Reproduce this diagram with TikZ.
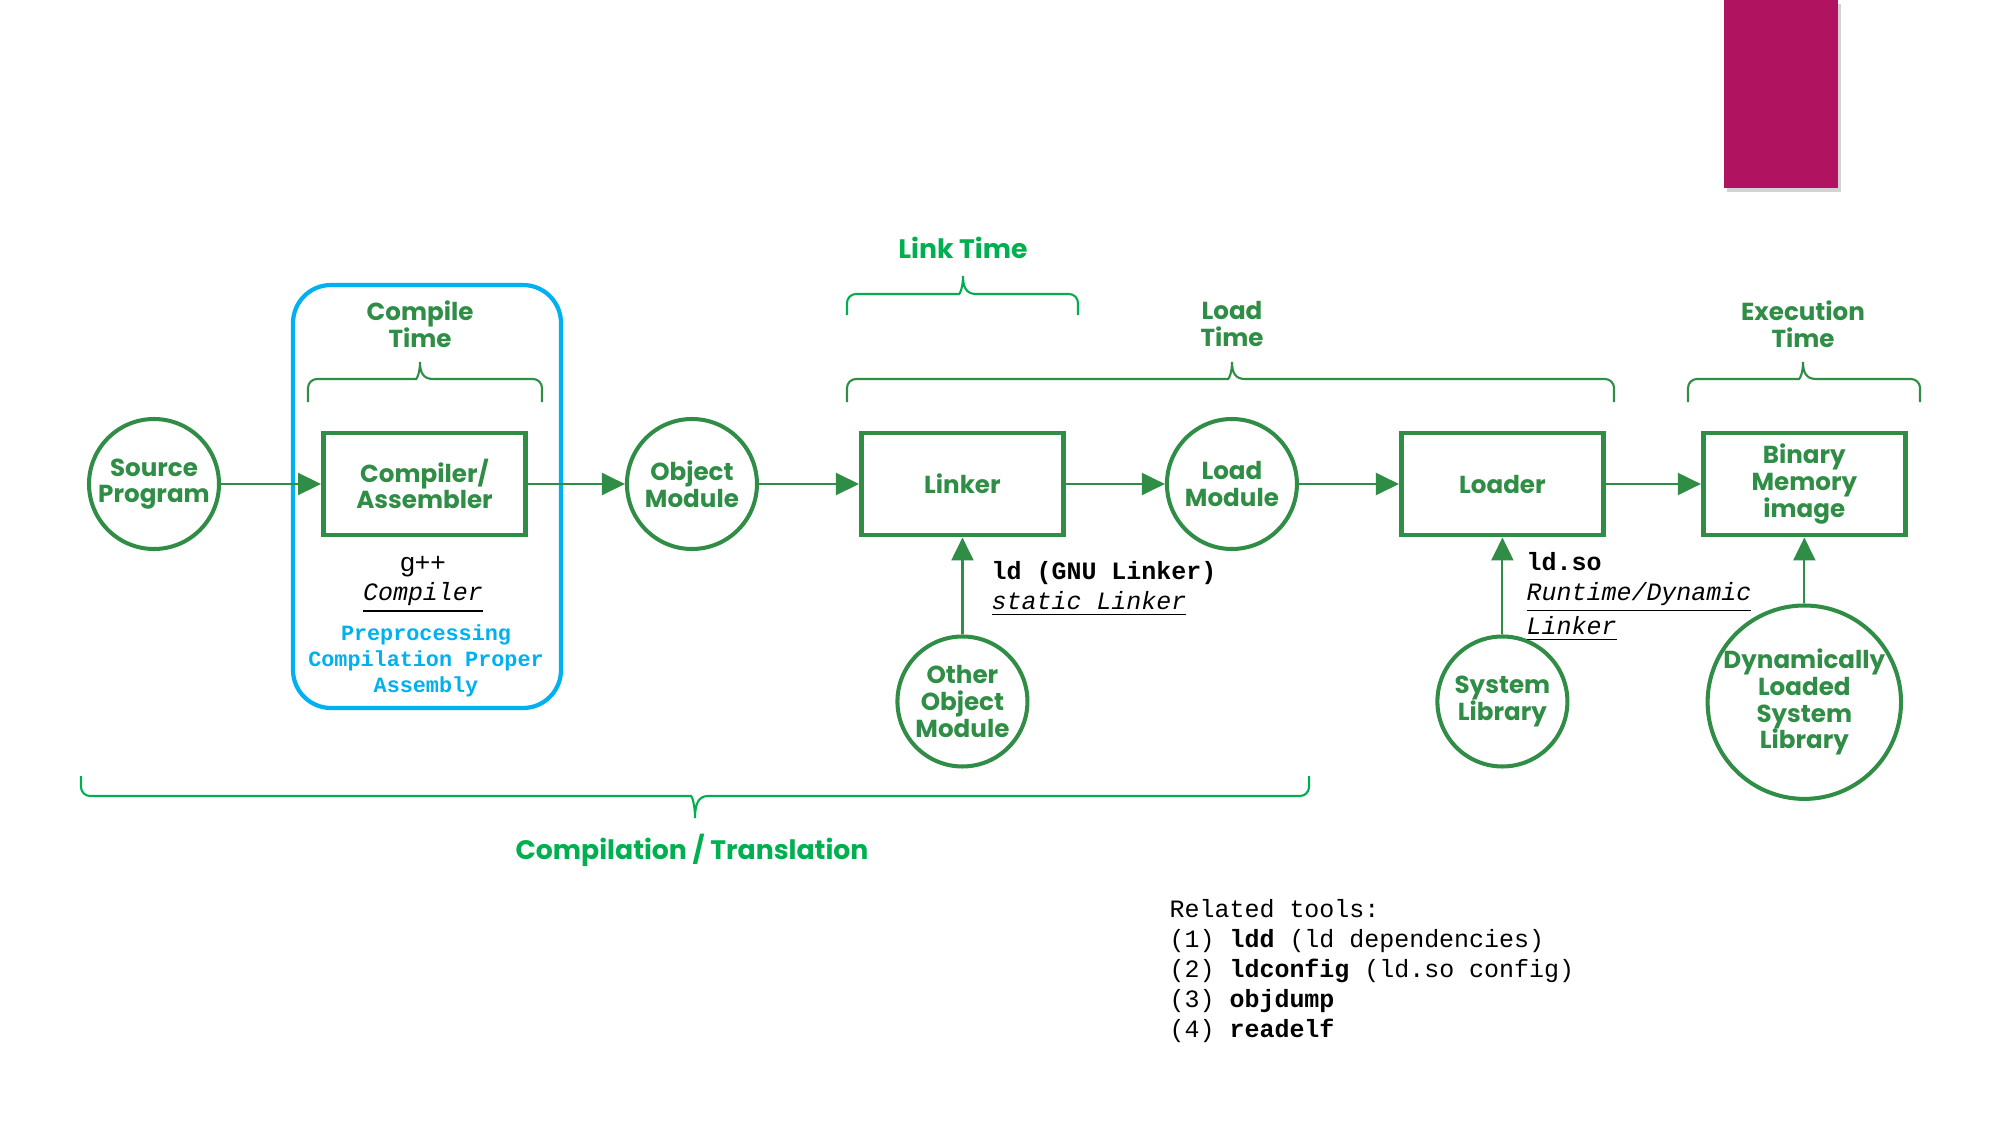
\documentclass[tikz,border=0pt]{standalone}
\usepackage{fontspec}
\setmonofont{Liberation Mono}
\newfontfamily\gfgfont{Poppins}
\newfontfamily\arialfont{Liberation Sans}
\usetikzlibrary{arrows.meta, positioning, shadows}

\definecolor{gfggreen}{RGB}{47,141,70}
\definecolor{linkgreen}{RGB}{0,176,80}
\definecolor{stageblue}{RGB}{0,176,240}
\definecolor{accent}{RGB}{176,19,96}

\newcommand{\boxfont}{\gfgfont\bfseries\fontsize{7}{7.6}\selectfont\lineskiplimit=-5pt}
\newcommand{\spanfont}{\gfgfont\bfseries\fontsize{7.6}{9}\selectfont}
\newcommand{\notefont}{\ttfamily\fontsize{7.1}{8.6}\selectfont}

% #1 style, #2 left x, #3 right x, #4 tip x, #5 line y, #6 leg end y, #7 tip y
\newcommand{\timebrace}[7]{%
  \draw[#1] (#2,#6) [rounded corners=0.9mm] -- (#2,#5) -- ({#4-13},#5) [sharp corners]
    .. controls ({#4-3},#5) and (#4,{#5+0.4*(#7-#5)}) .. (#4,#7)
    .. controls (#4,{#5+0.4*(#7-#5)}) and ({#4+3},#5) .. ({#4+13},#5)
    [rounded corners=0.9mm] -- (#3,#5) -- (#3,#6);}

\begin{document}
\begin{tikzpicture}[x=0.1mm, y=-0.1mm,
  stepbox/.style={draw=gfggreen, line width=1.4pt, rectangle, minimum width=20.2mm, minimum height=10.2mm,
    text=gfggreen, font=\boxfont, align=center, inner sep=0pt},
  module/.style={draw=gfggreen, line width=1.15pt, circle, minimum size=13mm,
    text=gfggreen, font=\boxfont, align=center, inner sep=0pt},
  spanlabel/.style={text=gfggreen, font=\boxfont, align=center},
  flow/.style={draw=gfggreen, line width=0.6pt, -{Triangle[length=2.3mm, width=2.2mm]}},
  bracket/.style={draw=gfggreen, line width=0.6pt},
  note/.style={font=\notefont, align=left, inner sep=0pt, anchor=west}]

\useasboundingbox (0,0) rectangle (2014,1125);

% corner tab
\fill[accent, drop shadow={shadow xshift=0.3mm, shadow yshift=-0.4mm, opacity=0.35}] (1724,0) rectangle (1838,188);

% compile stage frame
\draw[stageblue, line width=1.2pt, rounded corners=3.8mm] (293,285) rectangle (561,708);

% main chain
\node[module] (source) at (154,484) {Source\\Program};
\node[stepbox, right=10mm of source] (compiler) {Compiler/\\Assembler};
\node[module, right=9.7mm of compiler] (object) {Object\\Module};
\node[stepbox, right=10mm of object] (linker) {Linker};
\node[module, right=9.9mm of linker] (loadmodule) {Load\\Module};
\node[stepbox, right=10mm of loadmodule] (loader) {Loader};
\node[stepbox, right=9.5mm of loader] (binary) {Binary\\Memory\\image};

% inputs from below
\node[module, below=9.7mm of linker] (other) {Other\\Object\\Module};
\node[module, below=9.7mm of loader] (syslib) {System\\Library};
\node[module, minimum size=18.8mm, below=6.6mm of binary] (dynlib) {Dynamically\\Loaded\\System\\Library};

% time spans
\node[spanlabel] (compiletime) at (420,324) {Compile\\Time};
\node[spanlabel] (loadtime) at (1232,324) {Load\\Time};
\node[spanlabel] (exectime) at (1803,324) {Execution\\Time};
\node[text=linkgreen, font=\spanfont] (linktime) at (963,248) {Link Time};
\node[text=linkgreen, font=\spanfont] (translation) at (692,850) {Compilation / Translation};

\timebrace{bracket}{308}{542}{420}{379}{402}{362}
\timebrace{bracket}{847}{1614}{1232}{379}{402}{362}
\timebrace{bracket}{1688}{1920}{1803}{379}{402}{362}
\timebrace{bracket, draw=linkgreen}{847}{1078}{963}{294}{315}{276}
\timebrace{bracket, draw=linkgreen}{81}{1309}{695}{796}{776}{818}

% tool notes
\node[font=\arialfont\fontsize{7.5}{9}\selectfont] (gpp) at (423,567) {g++};
\node[font=\notefont] (compilername) at (423,598) {\underline{\textit{Compiler}}};
\node[font=\ttfamily\bfseries\fontsize{6.2}{7.4}\selectfont, text=stageblue, align=center] (stages) at (426,661)
  {Preprocessing\\Compilation Proper\\Assembly};
\node[note] (ldnote) at (991,589) {\textbf{ld (GNU Linker)}\\\underline{\textit{static Linker}}};
\node[note] (ldsonote) at (1526,597) {\textbf{ld.so}\\\underline{\textit{Runtime/Dynamic}}\\\underline{\textit{Linker}}};
\node[note] (tools) at (1169,971) {Related tools:\\(1) \textbf{ldd} (ld dependencies)\\(2) \textbf{ldconfig} (ld.so config)\\(3) \textbf{objdump}\\(4) \textbf{readelf}};

% connectors
\draw[flow] (source) -- (compiler);
\draw[flow] (compiler) -- (object);
\draw[flow] (object) -- (linker);
\draw[flow] (linker) -- (loadmodule);
\draw[flow] (loadmodule) -- (loader);
\draw[flow] (loader) -- (binary);
\draw[flow] (other) -- (linker);
\draw[flow] (syslib) -- (loader);
\draw[flow] (dynlib) -- (binary);
\end{tikzpicture}
\end{document}
